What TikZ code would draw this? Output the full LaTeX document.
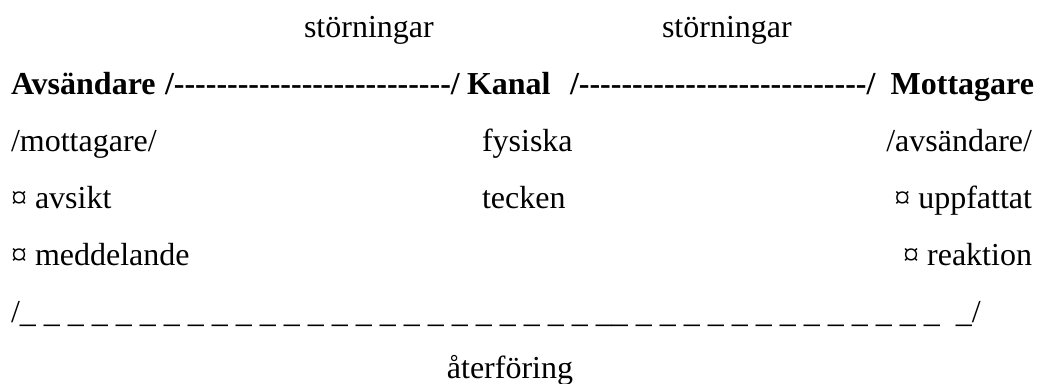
\documentclass[tikz,border=0pt]{standalone}
\usepackage{fontspec}
\setmainfont{Liberation Serif}[Ligatures=TeXOff]
\begin{document}
\begin{tikzpicture}[x=0.375pt,y=-0.375pt,
  txt/.style={inner sep=0pt,outer sep=0pt,font=\fontsize{12pt}{14pt}\selectfont},
  lft/.style={txt,anchor=base west},
  rgt/.style={txt,anchor=base east},
  mid/.style={txt,anchor=base},
  hd/.style={lft,font=\fontsize{12pt}{14pt}\selectfont\bfseries},
  hdr/.style={rgt,font=\fontsize{12pt}{14pt}\selectfont\bfseries}]
\useasboundingbox (0,0) rectangle (1044,383);
% row 1
\node[lft] (s1) at (304,37) {störningar};
\node[lft] (s2) at (662,37) {störningar};
% row 2
\node[hd] (sender) at (11,94) {Avsändare};
\node[hd] (link1) at (165,94) {/--------------------------/};
\node[hd] (kanal) at (467,94) {Kanal};
\node[hd] (link2) at (570,94) {/---------------------------/};
\node[hdr] (receiver) at (1034,94) {Mottagare};
% row 3
\node[lft] (r3a) at (11,151) {/mottagare/};
\node[lft] (r3b) at (482,151) {fysiska};
\node[rgt] (r3c) at (1032,151) {/avsändare/};
% row 4
\node[lft] (r4a) at (11,208) {¤ avsikt};
\node[lft] (r4b) at (482,208) {tecken};
\node[rgt] (r4c) at (1032,208) {¤ uppfattat};
% row 5
\node[lft] (r5a) at (11,265) {¤ meddelande};
\node[rgt] (r5c) at (1032,265) {¤ reaktion};
% row 6
\node[lft] (fb) at (11,322) {/\_ \_ \_ \_ \_ \_ \_ \_ \_ \_ \_ \_ \_ \_ \_ \_ \_ \_ \_ \_ \_ \_ \_ \_ \_\_ \_ \_ \_ \_ \_ \_ \_ \_ \_ \_ \_ \_ \_ \ \_/};
% row 7
\node[mid] (at) at (510,378) {återföring};
\end{tikzpicture}
\end{document}
